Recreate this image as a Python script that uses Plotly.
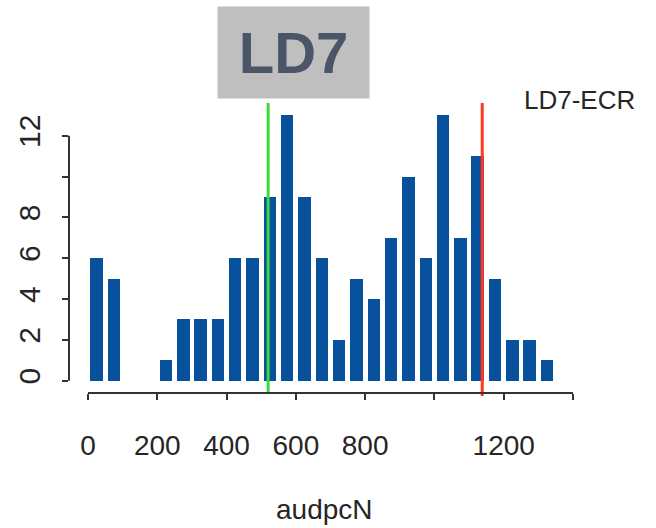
import plotly.graph_objects as go

# ---- data ----
bin_centers = [25, 75, 125, 175, 225, 275, 325, 375, 425, 475, 525, 575, 625, 675,
               725, 775, 825, 875, 925, 975, 1025, 1075, 1125, 1175, 1225, 1275, 1325]
counts = [6, 5, 0, 0, 1, 3, 3, 3, 6, 6, 9, 13, 9, 6,
          2, 5, 4, 7, 10, 6, 13, 7, 11, 5, 2, 2, 1]
x_tickvals = [0, 200, 400, 600, 800, 1000, 1200, 1400]
x_ticktext = ["0", "200", "400", "600", "800", "", "1200", ""]
y_tickvals = [0, 2, 4, 6, 8, 10, 12]
y_ticktext = ["0", "2", "4", "6", "8", "", "12"]
green_value = 520
red_value = 1138
panel_title = "LD7"
trait_label = "LD7-ECR"
x_title = "audpcN"

BAR = "#08519c"
TXT = "#262626"
FONT = "Liberation Sans, Arial, sans-serif"

fig = go.Figure()
fig.add_trace(go.Bar(x=bin_centers, y=counts, width=36, marker=dict(color=BAR, line=dict(width=0)),
                     hoverinfo="x+y"))

# threshold lines
fig.add_shape(type="line", xref="x", yref="paper", x0=green_value, x1=green_value, y0=0, y1=0.99,
              line=dict(color="#3ed83e", width=3))
fig.add_shape(type="line", xref="x", yref="paper", x0=red_value, x1=red_value, y0=-0.01, y1=0.99,
              line=dict(color="#ff3a1f", width=3))

# R-style axis lines spanning only the tick range
fig.add_shape(type="line", xref="x", yref="paper", x0=min(x_tickvals), x1=max(x_tickvals), y0=0, y1=0,
              line=dict(color="#333333", width=2))
fig.add_shape(type="line", xref="paper", yref="y", x0=0, x1=0, y0=min(y_tickvals), y1=max(y_tickvals),
              line=dict(color="#333333", width=2))

fig.update_layout(
    width=656, height=528,
    margin=dict(l=69, r=66, t=100, b=135),
    paper_bgcolor="white", plot_bgcolor="white",
    showlegend=False,
    bargap=0,
    font=dict(family=FONT, color=TXT),
    xaxis=dict(range=[-54.85, 1449.1], showgrid=False, zeroline=False, showline=False,
               tickmode="array", tickvals=x_tickvals, ticktext=x_ticktext,
               ticks="outside", ticklen=6, tickwidth=2, tickcolor="#333333",
               tickfont=dict(size=28, color=TXT, family=FONT), ticklabelstandoff=21),
    yaxis=dict(range=[-0.6, 13.75], showgrid=False, zeroline=False, showline=False,
               tickmode="array", tickvals=y_tickvals, ticktext=y_ticktext,
               ticks="outside", ticklen=6, tickwidth=2, tickcolor="#333333", tickangle=-90,
               tickfont=dict(size=30, color=TXT, family=FONT), ticklabelstandoff=10),
    annotations=[
        dict(text="<b>%s</b>" % panel_title, xref="paper", yref="paper",
             x=(293.5 - 69) / 521, y=(393 - 52.5) / 293, xanchor="center", yanchor="middle",
             showarrow=False, width=151, height=91, bgcolor="#bfbfbf", borderpad=0,
             align="center", valign="middle",
             font=dict(size=58, color="#4b5568", family=FONT)),
        dict(text=trait_label, xref="paper", yref="paper",
             x=(579 - 69) / 521, y=(393 - 100) / 293, xanchor="center", yanchor="middle",
             showarrow=False, font=dict(size=26, color=TXT, family=FONT)),
        dict(text=x_title, xref="paper", yref="paper",
             x=(324 - 69) / 521, y=(393 - 509) / 293, xanchor="center", yanchor="middle",
             showarrow=False, font=dict(size=28, color=TXT, family=FONT)),
    ],
)

fig.write_html("out.html")
